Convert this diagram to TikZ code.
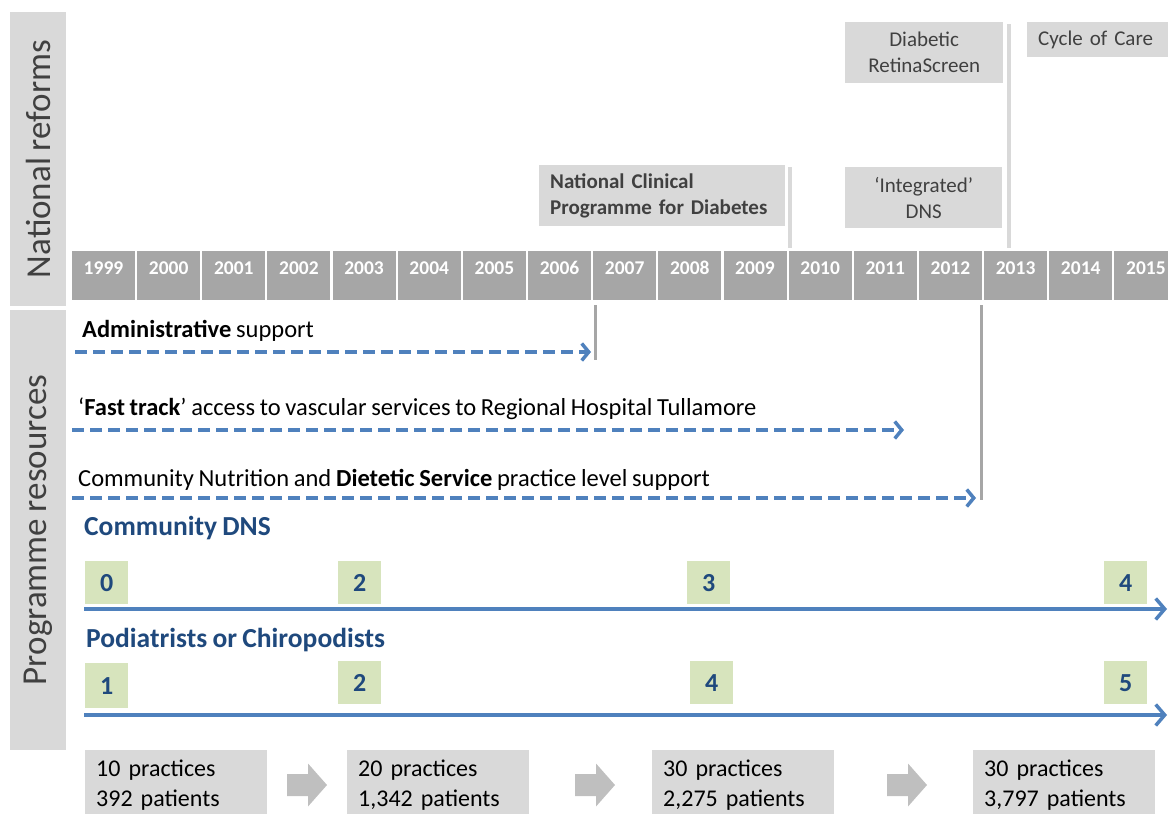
\documentclass[tikz,border=0pt]{standalone}
\usepackage{fontspec}
\setmainfont{Carlito}[WordSpace=0.85]
\usetikzlibrary{arrows.meta}

\definecolor{panelgray}{HTML}{D9D9D9}
\definecolor{yeargray}{HTML}{A6A6A6}
\definecolor{pushgray}{HTML}{BFBFBF}
\definecolor{inkgray}{HTML}{404040}
\definecolor{stepgreen}{HTML}{D7E4BD}
\definecolor{navy}{HTML}{1F497D}
\definecolor{lineblue}{HTML}{4F81BD}

\newcommand\fsz[2]{\fontsize{#1}{#2}\selectfont}

\tikzset{
	side/.style={fill=panelgray,text=inkgray,font=\fsz{35}{35},rotate=90,minimum height=56pt,inner sep=0pt},
	yearbox/.style={fill=yeargray,text=white,font=\bfseries\fsz{19.5}{20},minimum width=63pt,
		inner xsep=0pt,inner ysep=4pt,text height=19pt,text depth=22pt},
	reform/.style={fill=panelgray,text=inkgray,font=\fsz{21}{26},inner xsep=11pt,inner ysep=0pt,anchor=north west},
	resource/.style={anchor=west,inner sep=0pt,font=\fsz{24.5}{25}},
	staff/.style={anchor=west,inner sep=0pt,text=navy,font=\bfseries\fsz{27.5}{28}},
	count/.style={fill=stepgreen,text=navy,font=\bfseries\fsz{26}{26},minimum width=43pt,minimum height=43pt,inner sep=0pt,anchor=north west},
	practice/.style={fill=panelgray,font=\fsz{24}{30},anchor=north west,text width=160pt,align=left,
		inner xsep=11pt,inner ysep=0pt,minimum height=70pt},
	push/.pic={\fill[pushgray] (-20,-11) -- (1,-11) -- (1,-21.5) -- (20,0) -- (1,21.5) -- (1,11) -- (-20,11) -- cycle;},
	support/.style={draw=lineblue,line width=3.5pt,dash pattern=on 12pt off 6pt,
		-{Straight Barb[length=7pt,width=17pt]}},
	growth/.style={draw=lineblue,line width=3.5pt,-{Straight Barb[length=9pt,width=21pt]}},
}

\begin{document}
\begin{tikzpicture}[x=1pt,y=-1pt]
	\useasboundingbox (0,0) rectangle (1168,814);

	% side headings
	\node[side,minimum width=294pt] (natref) at (38,159) {National reforms};
	\node[side,minimum width=440pt] (progres) at (38,530) {Programme resources};

	% years
	\foreach \yr [count=\i from 0] in {1999,...,2015}
		\node[yearbox] (y\yr) at (103.5+65.15*\i,275.5) {\yr};

	% national reforms
	\node[reform,minimum width=246pt,minimum height=61pt,text width=224pt,align=left,font=\bfseries\fsz{21}{26}]
		(ncpd) at (539,165) {National Clinical\\Programme for Diabetes};
	\node[reform,minimum width=158pt,minimum height=61pt,text width=136pt,align=center]
		(retina) at (845,22) {Diabetic\\RetinaScreen};
	\node[reform,minimum width=157pt,minimum height=61pt,text width=135pt,align=center]
		(idns) at (845,167) {‘Integrated’\\DNS};
	\node[reform,minimum width=150pt,minimum height=35pt,text width=128pt,align=left]
		(cycle) at (1027,22) {Cycle of Care};

	\path
		(790,167) coordinate (ncpd-t) (790,248) coordinate (ncpd-b)
		(1009,24) coordinate (cyc-t) (1009,248) coordinate (cyc-b)
		(595,305) coordinate (adm-t) (595,360) coordinate (adm-b)
		(981,305) coordinate (diet-t) (981,500) coordinate (diet-b)
		;
	\draw[panelgray,line width=4pt]
		(ncpd-t) -- (ncpd-b)
		(cyc-t) -- (cyc-b)
	;
	\draw[yeargray,line width=3pt]
		(adm-t) -- (adm-b)
		(diet-t) -- (diet-b)
	;

	% programme resources
	\node[resource] (adm) at (82,331) {\textbf{Administrative} support};
	\node[resource] (fast) at (78,409) {‘\textbf{Fast track}’ access to vascular services to Regional Hospital Tullamore};
	\node[resource] (diet) at (78,480) {Community Nutrition and \textbf{Dietetic Service} practice level support};

	\path
		(75,352) coordinate (adm-s) (591,352) coordinate (adm-e)
		(72,430) coordinate (fast-s) (904,430) coordinate (fast-e)
		(72,498) coordinate (diet-s) (976,498) coordinate (diet-e)
		(84,609) coordinate (dns-s) (1167,609) coordinate (dns-e)
		(84,715) coordinate (pod-s) (1167,715) coordinate (pod-e)
		;
	\draw[support] (adm-s) -- (adm-e);
	\draw[support] (fast-s) -- (fast-e);
	\draw[support] (diet-s) -- (diet-e);

	\node[staff] (dns) at (84,528) {Community DNS};
	\node[count] (dns1999) at (85,561) {0};
	\node[count] (dns2003) at (338,561) {2};
	\node[count] (dns2008) at (687,561) {3};
	\node[count] (dns2014) at (1104,561) {4};
	\draw[growth] (dns-s) -- (dns-e);

	\node[staff] (pod) at (86,640) {Podiatrists or Chiropodists};
	\node[count,minimum height=45pt] (pod1999) at (85,663) {1};
	\node[count] (pod2003) at (338,661) {2};
	\node[count] (pod2008) at (690,661) {4};
	\node[count] (pod2014) at (1104,661) {5};
	\draw[growth] (pod-s) -- (pod-e);

	% practices and patients
	\node[practice] (p1) at (85,750) {10 practices\\392 patients};
	\node[practice] (p2) at (347,750) {20 practices\\1,342 patients};
	\node[practice] (p3) at (652,750) {30 practices\\2,275 patients};
	\node[practice] (p4) at (973,750) {30 practices\\3,797 patients};
	\pic at (307,785) {push};
	\pic at (595,785) {push};
	\pic at (907,785) {push};
\end{tikzpicture}
\end{document}
